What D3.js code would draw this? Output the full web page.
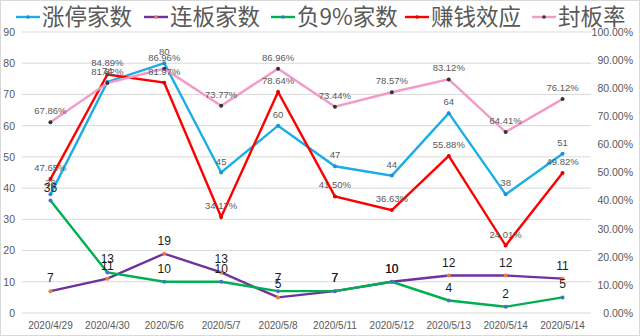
<!DOCTYPE html>
<html><head><meta charset="utf-8">
<script src="https://cdn.jsdelivr.net/npm/d3@7"></script>
<style>body{margin:0;background:#fff}svg{display:block}</style>
</head><body>
<script>
const categories = ["2020/4/29","2020/4/30","2020/5/6","2020/5/7","2020/5/8","2020/5/11","2020/5/12","2020/5/13","2020/5/14","2020/5/14"];
const limitUp = [38,74,80,45,60,47,44,64,38,51];          // 涨停家数
const consecutive = [7,11,19,13,5,7,10,12,12,11];        // 连板家数
const minus9 = [36,13,10,10,7,7,10,4,2,5];               // 负9%家数
const profitEffect = [0.4765,0.8489,0.8197,0.3417,0.7864,0.4150,0.3663,0.5588,0.2401,0.4982]; // 赚钱效应
const sealRate = [0.6786,0.8182,0.8696,0.7377,0.8696,0.7344,0.7857,0.8312,0.6441,0.7612];     // 封板率
const leftTicks = [0,10,20,30,40,50,60,70,80,90];
const rightTicks = [0,0.1,0.2,0.3,0.4,0.5,0.6,0.7,0.8,0.9,1.0];
const seriesNames = ["涨停家数","连板家数","负9%家数","赚钱效应","封板率"];

const W = 640, H = 336;
const svg = d3.select("body").append("svg").attr("width", W).attr("height", H);
svg.append("rect").attr("x",0.5).attr("y",0.5).attr("width",W-1).attr("height",H-1)
  .attr("fill","#fff").attr("stroke","#d9d9d9");

const plotL = 22, plotR = 591, plotT = 32, plotB = 313;
const idx = categories.map((d,i)=>i);
const x = d3.scaleBand().domain(idx).range([plotL, plotR]);
const cx = i => x(i) + x.bandwidth()/2;
const yL = d3.scaleLinear().domain([0,90]).range([plotB, plotT]);
const yR = d3.scaleLinear().domain([0,1]).range([plotB, plotT]);

const numFont = "'Liberation Sans', Arial, sans-serif";
const gray = "#595959";

// gridlines
svg.append("g").selectAll("line").data(leftTicks).join("line")
  .attr("x1", plotL).attr("x2", plotR)
  .attr("y1", d=>yL(d)).attr("y2", d=>yL(d))
  .attr("stroke", "#d9d9d9").attr("stroke-width", 1);

// left axis
const gl = svg.append("g").attr("transform", `translate(${plotL-7},0)`)
  .call(d3.axisLeft(yL).tickValues(leftTicks).tickSize(0).tickPadding(0));
gl.select(".domain").remove();
gl.selectAll("text").attr("font-family", numFont).attr("font-size", 10.5).attr("fill", gray);

// right axis
const gr = svg.append("g").attr("transform", `translate(633,0)`)
  .call(d3.axisLeft(yR).tickValues(rightTicks).tickFormat(d3.format(".2%")).tickSize(0).tickPadding(0));
gr.select(".domain").remove();
gr.selectAll("text").attr("font-family", numFont).attr("font-size", 10.5).attr("fill", gray);

// bottom axis
const gb = svg.append("g").attr("transform", `translate(0,${plotB})`)
  .call(d3.axisBottom(x).tickFormat(i=>categories[i]).tickSize(0).tickPadding(9));
gb.select(".domain").remove();
gb.selectAll("text").attr("font-family", numFont).attr("font-size", 10).attr("fill", gray);

const series = [
  {name: seriesNames[0], data: limitUp, y: yL, color: "#1AAEE8", marker: "#1F8FD0", lab: {size: 9.5, fill: gray, fmt: d=>d}},
  {name: seriesNames[1], data: consecutive, y: yL, color: "#7030A0", marker: "#ED7D31", lab: {size: 12, fill: "#1a1a1a", fmt: d=>d}},
  {name: seriesNames[2], data: minus9, y: yL, color: "#00B050", marker: "#4472C4", lab: {size: 12, fill: "#1a1a1a", fmt: d=>d}},
  {name: seriesNames[3], data: profitEffect, y: yR, color: "#FF0000", marker: "#E00000", lab: {size: 9.5, fill: gray, fmt: d3.format(".2%")}},
  {name: seriesNames[4], data: sealRate, y: yR, color: "#F49AC8", marker: "#333333", lab: {size: 9.5, fill: gray, fmt: d3.format(".2%")}}
];

series.forEach(s => {
  const line = d3.line().x((d,i)=>cx(i)).y(d=>s.y(d));
  svg.append("path").datum(s.data).attr("d", line)
    .attr("fill","none").attr("stroke", s.color).attr("stroke-width", 2.4)
    .attr("stroke-linejoin","miter");
  svg.append("g").selectAll("circle").data(s.data).join("circle")
    .attr("cx",(d,i)=>cx(i)).attr("cy", d=>s.y(d)).attr("r", 2).attr("fill", s.marker);
});

series.forEach(s => {
  svg.append("g").selectAll("text").data(s.data).join("text")
    .attr("x",(d,i)=>cx(i)).attr("y", d=>s.y(d) - (s.lab.size > 11 ? 9 : 8))
    .attr("text-anchor","middle")
    .attr("font-family", numFont).attr("font-size", s.lab.size).attr("fill", s.lab.fill)
    .text(d=>s.lab.fmt(d));
});

// legend
const legendX = [42, 170, 297, 431, 558];
const lg = svg.append("g");
series.forEach((s,i) => {
  const tx = legendX[i];
  lg.append("line").attr("x1", tx-26).attr("x2", tx-2).attr("y1", 17).attr("y2", 17)
    .attr("stroke", s.color).attr("stroke-width", 2.4);
  lg.append("circle").attr("cx", tx-14).attr("cy", 17).attr("r", 1.8).attr("fill", s.marker);
  lg.append("text").attr("x", tx).attr("y", 17).attr("dy", "0.36em")
    .attr("font-family", "'Noto Sans CJK SC', sans-serif").attr("font-size", 22.5)
    .attr("fill", gray).text(s.name);
});
</script>
</body></html>
